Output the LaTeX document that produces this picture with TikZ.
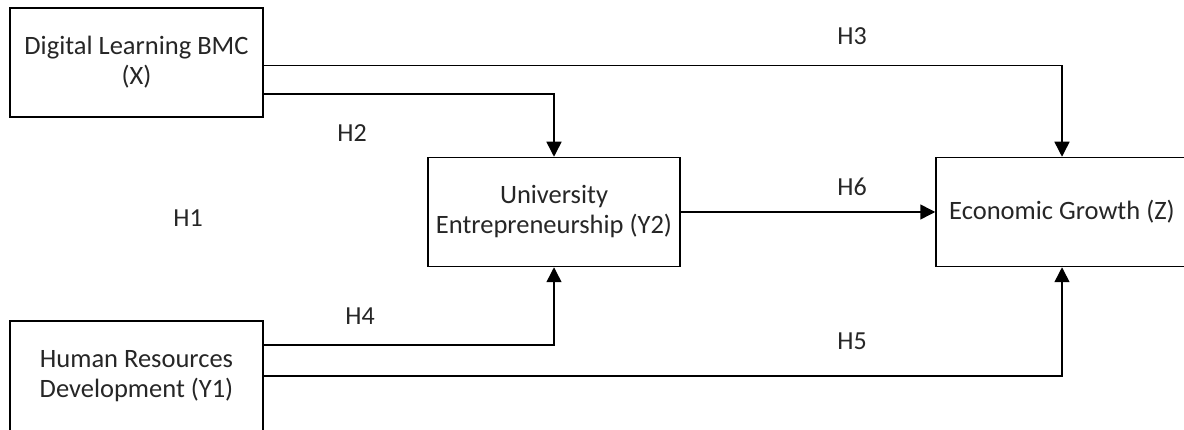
\documentclass[tikz,border=0pt]{standalone}
\usepackage{fontspec}
\setmainfont{Carlito}
\usetikzlibrary{arrows.meta, positioning}
\tikzset{var node/.style={rectangle,draw,line width=1.5pt,minimum width=253pt,minimum height=109pt,inner sep=0pt,align=center,text=black!85,font=\fontsize{26.5}{30}\selectfont},
         hyp label/.style={text=black!85,font=\fontsize{26}{30}\selectfont},}

\begin{document}
\begin{tikzpicture}[x=1pt, y=-1pt, >={Triangle[length=15pt,width=15pt]}]
   \useasboundingbox (0,0) rectangle (1184,430);
   \node[var node] (X) at (136.5,62.5) {Digital Learning BMC\\(X)};
   \node[var node, minimum width=252pt] (Y2) [below right = 39pt and 163.5pt of X]{University\\Entrepreneurship (Y2)};
   \node[var node, minimum width=252pt] (Z) [right = 254.5pt of Y2]{Economic Growth (Z)};
   \node[var node, minimum height=110pt] (Y1) [below = 202.5pt of X]{Human Resources\\Development (Y1)};
   % hypotheses
   \node[hyp label] (h1) at (188,218) {H1};
   \node[hyp label] (h2) at (352,133) {H2};
   \node[hyp label] (h3) at (852,36) {H3};
   \node[hyp label] (h4) at (360,316) {H4};
   \node[hyp label] (h5) at (852,341) {H5};
   \node[hyp label] (h6) at (852,187) {H6};
   \draw[->, line width=1.5pt] ([yshift=-3pt]X.east) -| (Z.north);
   \draw[->, line width=1.5pt] ([yshift=-31.5pt]X.east) -| (Y2.north);
   \draw[->, line width=1.5pt] (Y2.east) -- (Z.west);
   \draw[->, line width=1.5pt] ([yshift=31pt]Y1.east) -| (Y2.south);
   \draw[->, line width=1.5pt] (Y1.east) -| (Z.south);
\end{tikzpicture}
\end{document}
